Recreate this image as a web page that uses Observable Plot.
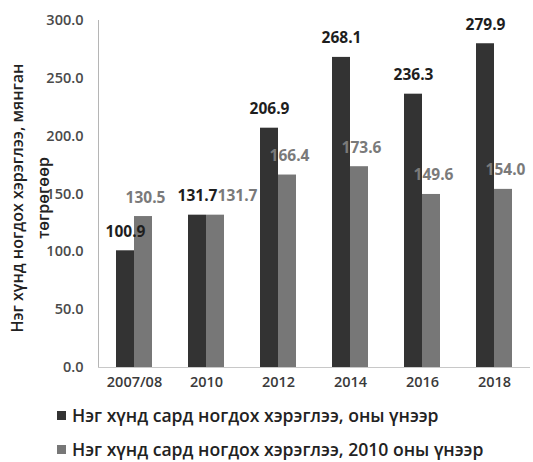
<!DOCTYPE html>
<html>
<head>
<meta charset="utf-8">
<script src="https://cdn.jsdelivr.net/npm/d3@7"></script>
<script src="https://cdn.jsdelivr.net/npm/@observablehq/plot@0.6"></script>
<style>
  body { margin: 0; background: #fff; font-family: "Open Sans", sans-serif; }
  #chart { width: 533px; }
  .legend { padding-left: 57px; margin-top: 0px; }
  .legend .row { display: flex; align-items: center; height: 34px; font-size: 17.6px; font-weight: 600; color: #222; }
  .legend .sw { width: 9px; height: 9px; margin-right: 6px; }
</style>
</head>
<body>
<div id="chart"></div>
<script>
const categories = ["2007/08", "2010", "2012", "2014", "2016", "2018"];
const currentPrice = [100.9, 131.7, 206.9, 268.1, 236.3, 279.9];
const constPrice = [130.5, 131.7, 166.4, 173.6, 149.6, 154.0];
const seriesNames = [
  "Нэг хүнд сард ногдох хэрэглээ, оны үнээр",
  "Нэг хүнд сард ногдох хэрэглээ, 2010 оны үнээр"
];
const yTicks = [0, 50, 100, 150, 200, 250, 300];
const yTitle = ["Нэг хүнд ногдох хэрэглээ, мянган", "төгрөгөөр"];

const colors = ["#333333", "#777777"];
const labelColors = ["#1e1e1e", "#7a7a7a"];

const cur = categories.map((c, i) => ({cat: c, v: currentPrice[i]}));
const con = categories.map((c, i) => ({cat: c, v: constPrice[i]}));
const tied = (d, i) => currentPrice[i] === constPrice[i];

const labelStyle = {x: "cat", y: "v", text: d => d.v.toFixed(1), dy: -14, lineAnchor: "bottom",
  fontSize: 15.5, fontWeight: "bold"};

const plot = Plot.plot({
  width: 533,
  height: 398,
  marginLeft: 98,
  marginRight: 3,
  marginTop: 20,
  marginBottom: 31,
  style: {fontFamily: "Open Sans, sans-serif", background: "#fff"},
  x: {domain: categories, paddingInner: 0.75, paddingOuter: 0.375, label: null},
  y: {domain: [0, 300], label: null},
  marks: [
    Plot.frame({anchor: "left", stroke: "#b5b5b5"}),
    Plot.barY(cur, {x: "cat", y: "v", fill: colors[0], dx: -9}),
    Plot.barY(con, {x: "cat", y: "v", fill: colors[1], dx: 9}),
    Plot.ruleY([0], {stroke: "#c8c8c8"}),
    Plot.axisY({ticks: yTicks, tickFormat: d => d.toFixed(1), tickSize: 0, tickPadding: 15,
      fontSize: 14.5, fontWeight: 600, fill: "#4a4a4a", label: null}),
    Plot.axisX({tickSize: 0, tickPadding: 9, fontSize: 14.5, fontWeight: 600, fill: "#3a3a3a", label: null}),
    Plot.text(cur, {...labelStyle, dx: -9, fill: labelColors[0]}),
    Plot.text(con.filter((d, i) => !tied(d, i)), {...labelStyle, dx: 11, fill: labelColors[1]}),
    Plot.text(con.filter((d, i) => tied(d, i)), {...labelStyle, dx: 31, fill: labelColors[1]}),
    Plot.text([yTitle[0]], {frameAnchor: "left", text: d => d, rotate: -90, dx: -81, dy: 4, textAnchor: "middle",
      fontSize: 16, fontWeight: 600, fill: "#222"}),
    Plot.text([yTitle[1]], {frameAnchor: "left", text: d => d, rotate: -90, dx: -55, dy: 4, textAnchor: "middle",
      fontSize: 16, fontWeight: 600, fill: "#222"})
  ]
});
document.getElementById("chart").appendChild(plot);

const legend = document.createElement("div");
legend.className = "legend";
seriesNames.forEach((name, i) => {
  const row = document.createElement("div");
  row.className = "row";
  const sw = document.createElement("span");
  sw.className = "sw";
  sw.style.background = colors[i];
  const t = document.createElement("span");
  t.textContent = name;
  row.appendChild(sw);
  row.appendChild(t);
  legend.appendChild(row);
});
document.getElementById("chart").appendChild(legend);
</script>
</body>
</html>
